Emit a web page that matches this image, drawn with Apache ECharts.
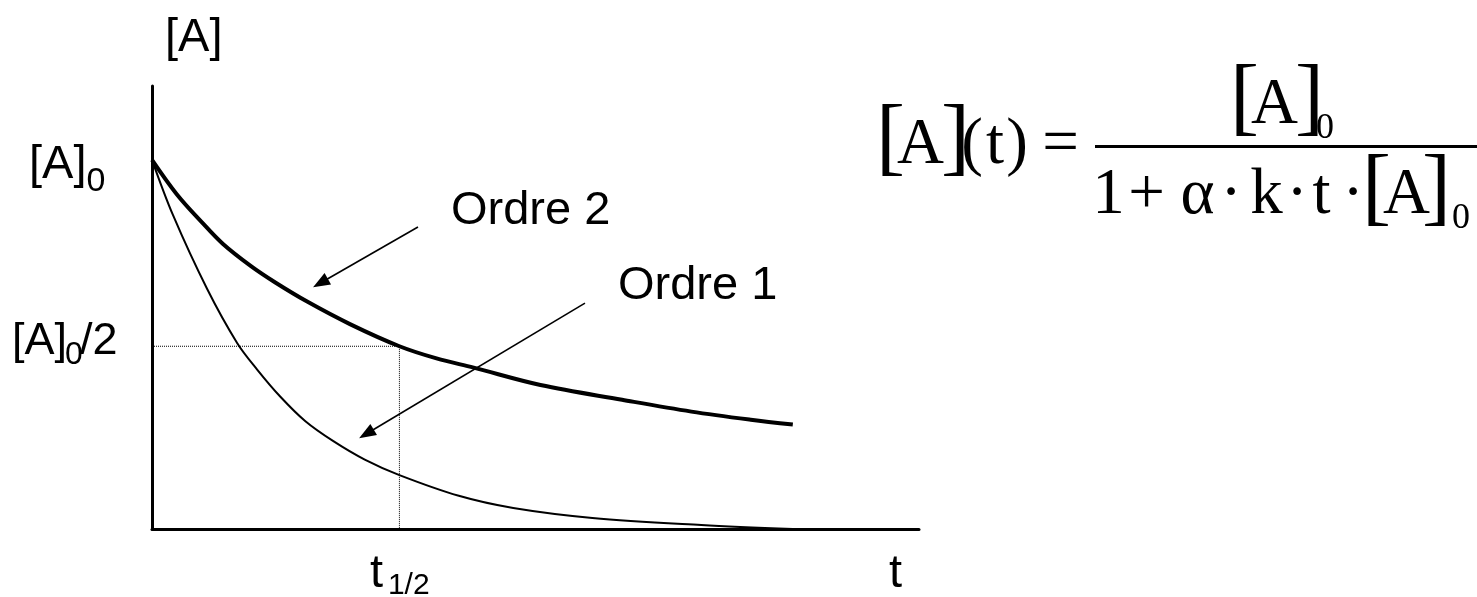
<!DOCTYPE html>
<html>
<head>
<meta charset="utf-8">
<script src="https://cdn.jsdelivr.net/npm/echarts@6/dist/echarts.min.js"></script>
<style>
  html, body { margin: 0; padding: 0; background: #fff; }
  #chart { width: 1477px; height: 597px; }
</style>
</head>
<body>
<div id="chart"></div>
<script>
// Time in units of the second-order half-life, concentration as a fraction of [A]0
const order2Time = [0, 0.1, 0.2, 0.287, 0.4, 0.5, 0.627, 0.8, 1.0, 1.15, 1.3, 1.57, 1.9, 2.18, 2.42, 2.59];
const order2Conc = [1.0, 0.907, 0.832, 0.772, 0.712, 0.667, 0.616, 0.555, 0.495, 0.462, 0.437, 0.39, 0.35, 0.318, 0.296, 0.283];

const order1Time = [0, 0.085, 0.223, 0.344, 0.425, 0.518, 0.62, 0.733, 0.86, 1.0, 1.24, 1.46, 1.78, 2.22, 2.59];
const order1Conc = [1.0, 0.85, 0.65, 0.504, 0.432, 0.359, 0.292, 0.238, 0.188, 0.146, 0.09, 0.057, 0.03, 0.011, 0.0];

// Half-life marker
const halfLifeTime = 1.0;
const halfLevel = 0.495;

// Annotation arrows: [fromT, fromC, toT, toC]
const arrowOrder2 = [1.075, 0.818, 0.651, 0.655];
const arrowOrder1 = [1.750, 0.612, 0.837, 0.246];

// Axis extents
const tMax = 3.1;
const cMax = 1.2;

// Texts
const seriesNames = ['Ordre 2', 'Ordre 1'];
const yAxisName = '[A]';
const xAxisName = 't';
const yTickMain = ['[A]', '0'];          // [A]0
const yTickHalf = ['[A]', '0', '/2'];    // [A]0/2
const xTickHalf = ['t', '1/2'];          // t1/2

const SANS = '"Liberation Sans", Arial, sans-serif';
const SERIF = '"Liberation Serif", "Times New Roman", serif';

const chart = echarts.init(document.getElementById('chart'), null, { renderer: 'canvas' });

function zip(a, b) { return a.map((v, i) => [v, b[i]]); }

function arrowItem(params, api) {
  const p0 = api.coord([api.value(0), api.value(1)]);
  const p1 = api.coord([api.value(2), api.value(3)]);
  const dx = p1[0] - p0[0], dy = p1[1] - p0[1];
  const len = Math.hypot(dx, dy);
  const ux = dx / len, uy = dy / len;
  const L = 17, W = 6.5;
  const bx = p1[0] - ux * L, by = p1[1] - uy * L;
  return {
    type: 'group',
    children: [
      { type: 'line', shape: { x1: p0[0], y1: p0[1], x2: bx + ux * 2, y2: by + uy * 2 },
        style: { stroke: '#000', lineWidth: 1.6 } },
      { type: 'polygon',
        shape: { points: [[p1[0], p1[1]], [bx - uy * W, by + ux * W], [bx + uy * W, by - ux * W]] },
        style: { fill: '#000' } }
    ]
  };
}

chart.setOption({
  animation: false,
  backgroundColor: '#fff',
  grid: { left: 152, right: 558, top: 86, bottom: 68 },
  xAxis: {
    type: 'value', min: 0, max: tMax,
    axisLine: { show: true, onZero: false, lineStyle: { color: '#000', width: 3 } },
    axisTick: { show: false }, axisLabel: { show: false }, splitLine: { show: false }
  },
  yAxis: {
    type: 'value', min: 0, max: cMax,
    axisLine: { show: true, onZero: false, lineStyle: { color: '#000', width: 3 } },
    axisTick: { show: false }, axisLabel: { show: false }, splitLine: { show: false }
  },
  series: [
    {
      name: 'guide', type: 'line', silent: true, symbol: 'none',
      data: [[0, halfLevel], [halfLifeTime, halfLevel], [halfLifeTime, 0]],
      lineStyle: { color: '#000', width: 1, type: [1, 1] }, z: 1
    },
    {
      name: seriesNames[1], type: 'line', symbol: 'none', smooth: 0.35,
      data: zip(order1Time, order1Conc),
      lineStyle: { color: '#000', width: 2 }, z: 3
    },
    {
      name: seriesNames[0], type: 'line', symbol: 'none', smooth: 0.35,
      data: zip(order2Time, order2Conc),
      lineStyle: { color: '#000', width: 4 }, z: 3
    },
    {
      name: 'arrows', type: 'custom', silent: true,
      renderItem: arrowItem,
      encode: { x: [0, 2], y: [1, 3] },
      data: [arrowOrder2, arrowOrder1], z: 4
    }
  ]
});

// Labels placed from the axes' own scales
const toPx = (t, c) => chart.convertToPixel({ gridIndex: 0 }, [t, c]);
const pMain = toPx(0, 1.0);
const pHalf = toPx(0, halfLevel);
const pT = toPx(halfLifeTime, 0);

function txt(text, x, y, size, family, align) {
  return {
    type: 'text', x: x, y: y, silent: true,
    style: { text: text, font: size + 'px ' + family, fill: '#000',
             align: align || 'left', verticalAlign: 'middle' }
  };
}

const LBL = 47, SUB = 34;
const graphics = [
  // axis names
  txt(yAxisName, 165, 38, LBL, SANS),
  txt(xAxisName, 889, 574.5, LBL, SANS),
  // [A]0
  txt(yTickMain[0], 29, pMain[1] + 5.7, LBL, SANS),
  txt(yTickMain[1], 86.5, pMain[1] + 21.4, SUB, SANS),
  // [A]0/2
  txt(yTickHalf[0], 12, pHalf[1] - 5, 45, SANS),
  txt(yTickHalf[1], 65, pHalf[1] + 9.4, 32, SANS),
  txt(yTickHalf[2], 80, pHalf[1] - 5, 45, SANS),
  // t1/2
  txt(xTickHalf[0], pT[0] - 29.5, 574.5, LBL, SANS),
  txt(xTickHalf[1], pT[0] - 11.5, 585.5, 30, SANS),
  // series annotations
  txt(seriesNames[0], 451, 211, LBL, SANS),
  txt(seriesNames[1], 618, 285.7, LBL, SANS)
];

// Rate law for the second-order curve, set glyph by glyph
const F = 65, FB = 87, FS = 36;
const mid = (baseline, size) => baseline - 0.24 * size;
const glyphs = [
  // [A](t) =
  ['[', 890.5, 162, FB], ['A', 920.5, 162, F], [']', 955.5, 162, FB],
  ['(', 972, 162, F], ['t', 995, 162, F], [')', 1017, 162, F],
  ['=', 1060.5, 162, F],
  // numerator [A]0
  ['[', 1244.5, 122, FB], ['A', 1274.5, 122, F], [']', 1309.5, 122, FB], ['0', 1325, 137, FS],
  // denominator 1 + α·k·t·[A]0
  ['1', 1108.5, 212, F], ['+', 1146.5, 212, F], ['\u03B1', 1197.5, 212, F],
  ['\u00B7', 1231, 212, F], ['k', 1266.5, 212, F], ['\u00B7', 1297, 212, F],
  ['t', 1321.5, 212, F], ['\u00B7', 1353, 212, F],
  ['[', 1376.5, 212, FB], ['A', 1406.5, 212, F], [']', 1436.5, 212, FB], ['0', 1461, 227, FS]
];
glyphs.forEach(g => graphics.push(txt(g[0], g[1], mid(g[2], g[3]), g[3], SERIF, 'center')));
graphics.push({
  type: 'line', silent: true,
  shape: { x1: 1095, y1: 146.5, x2: 1477, y2: 146.5 },
  style: { stroke: '#000', lineWidth: 3 }
});

chart.setOption({ graphic: graphics });
</script>
</body>
</html>
